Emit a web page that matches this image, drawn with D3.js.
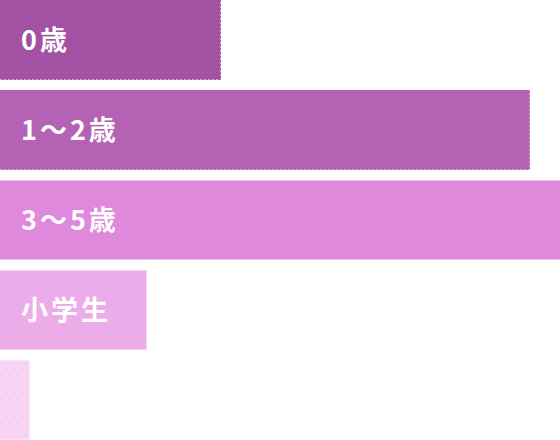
<!DOCTYPE html>
<html><head><meta charset="utf-8">
<script src="https://cdn.jsdelivr.net/npm/d3@7/dist/d3.min.js"></script>
<style>html,body{margin:0;padding:0;background:#fff;overflow:hidden}</style>
</head><body>
<svg id="c" width="560" height="440"></svg>
<script>
const categories = ["0歳", "1～2歳", "3～5歳", "小学生", "中学生"];
const values = [22.1, 53.0, 57.0, 14.7, 3.0];
const colors = ["#a352a3", "#b462b4", "#e088dc", "#ecacea", "#f8d3f3"];
const strokes = ["#d9a6d9", "#dcb0dc", "#f0c4ee", "#f6d4f5", "#fbe6f9"];

const W = 560, H = 440;
const svg = d3.select("#c");
const defs = svg.append("defs");
const pat = defs.append("pattern").attr("id","dots").attr("patternUnits","userSpaceOnUse")
  .attr("width",8).attr("height",12);
pat.append("rect").attr("width",8).attr("height",12).attr("fill",colors[4]);
pat.append("circle").attr("cx",2).attr("cy",3).attr("r",0.6).attr("fill","#e7b1e2");
pat.append("circle").attr("cx",6).attr("cy",9).attr("r",0.6).attr("fill","#e7b1e2");

const x = d3.scaleLinear().domain([0, 56]).range([0, W]);
const y = d3.scaleBand().domain(categories).range([0, H]).paddingInner(1/9).paddingOuter(0);

const g = svg.append("g");
const data = categories.map((c,i)=>({c, v: values[i], i}));
g.selectAll("rect.bar").data(data).join("rect").attr("class","bar")
  .attr("x", x(0)).attr("y", d=>y(d.c))
  .attr("width", d=>Math.min(x(d.v), W+10)).attr("height", y.bandwidth())
  .attr("fill", d=> d.i===4 ? "url(#dots)" : colors[d.i]);

// edges: top, right, bottom (no left)
g.selectAll("path.edge").data(data).join("path").attr("class","edge")
  .attr("d", d=>{
    const x1 = Math.min(x(d.v), W+10) - 0.5, y0 = y(d.c)+0.5, y1 = y(d.c)+y.bandwidth()-0.5;
    return d.i<2 ? `M0,${y1}H${x1}V${y0}` : `M0,${y0}H${x1}V${y1}H0`;
  })
  .attr("fill","none").attr("stroke", d=>strokes[d.i]).attr("stroke-width",1)
  .attr("stroke-dasharray", d=> d.i<2 ? "2,2" : null);

g.selectAll("text.lbl").data(data.filter(d=>x(d.v)>100)).join("text").attr("class","lbl")
  .attr("x", 21).attr("y", d=>y(d.c)+y.bandwidth()/2)
  .attr("dy","0.36em")
  .attr("fill","#fff")
  .attr("font-family","'Noto Sans CJK JP', 'Noto Sans', sans-serif")
  .attr("font-weight","bold").attr("font-size",27)
  .attr("letter-spacing","3px")
  .text(d=>d.c);
</script>
</body></html>
